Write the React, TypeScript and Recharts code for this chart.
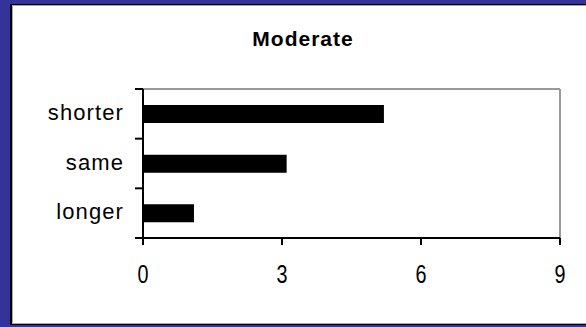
import { Bar, BarChart, CartesianGrid, XAxis, YAxis } from 'recharts';

const CATEGORIES = ['shorter', 'same', 'longer'];
const VALUES = [5.2, 3.1, 1.1];
const X_TICKS = [0, 3, 6, 9];

const data = CATEGORIES.map((cat, i) => ({ cat, value: VALUES[i] }));

const W = 586;
const H = 327;
const MARGIN = { top: 89, right: 26, bottom: 49, left: 0 };
const Y_AXIS_W = 143;
const X_AXIS_H = 40;
const PLOT_H = H - MARGIN.top - MARGIN.bottom - X_AXIS_H;
const HALF_BAND = PLOT_H / CATEGORIES.length / 2;
const AXIS_X = MARGIN.left + Y_AXIS_W;

const FONT = '"Liberation Sans", Arial, sans-serif';
const FRAME_BLUE = '#333399';

// category ticks sit on the band edges, labels in the band middle
function CategoryTick(props: any) {
  const { payload, index } = props;
  const y = payload?.coordinate ?? props.y;
  const last = index === CATEGORIES.length - 1;
  return (
    <g>
      <text
        x={AXIS_X - 19}
        y={y + 6}
        textAnchor="end"
        fontFamily={FONT}
        fontSize={22}
        letterSpacing={1.1}
        fill="#000"
      >
        {payload.value}
      </text>
      <line x1={AXIS_X - 8} x2={AXIS_X} y1={y - HALF_BAND} y2={y - HALF_BAND} stroke="#000" strokeWidth={2} />
      {last && <line x1={AXIS_X - 8} x2={AXIS_X} y1={y + HALF_BAND} y2={y + HALF_BAND} stroke="#000" strokeWidth={2} />}
    </g>
  );
}

function ValueTick(props: any) {
  const { x, payload } = props;
  const base = H - MARGIN.bottom - X_AXIS_H + 45;
  return (
    <text
      x={x - 5.5}
      y={base}
      fontFamily={FONT}
      fontSize={25}
      textLength={11}
      lengthAdjust="spacingAndGlyphs"
      fill="#000"
    >
      {payload.value}
    </text>
  );
}

export default function App() {
  return (
    <div style={{ position: 'fixed', left: 0, top: 0, width: W, height: H, background: FRAME_BLUE, overflow: 'hidden' }}>
      <div
        style={{
          position: 'absolute',
          left: 10,
          top: 4,
          width: W - 10,
          height: 321,
          boxSizing: 'border-box',
          background: '#fff',
          borderLeft: '2px solid #000',
          borderTop: '1px solid #000',
          borderBottom: '1px solid #000',
        }}
      >
        <div
          style={{
            position: 'absolute',
            left: 0,
            top: 0,
            right: 0,
            bottom: 0,
            borderLeft: '1px solid #aaa',
            borderTop: '1px solid #aaa',
            borderBottom: '1px solid #aaa',
          }}
        />
      </div>
      <div
        style={{
          position: 'absolute',
          left: 203,
          top: 28,
          width: 200,
          textAlign: 'center',
          fontFamily: FONT,
          fontWeight: 'bold',
          fontSize: 21,
          lineHeight: '21px',
          letterSpacing: 1,
          color: '#000',
        }}
      >
        Moderate
      </div>
      <div style={{ position: 'absolute', left: 0, top: 0 }}>
        <BarChart width={W} height={H} data={data} layout="vertical" margin={MARGIN} barSize={18}>
          <CartesianGrid
            stroke="#999"
            strokeWidth={2}
            horizontalCoordinatesGenerator={({ offset }: any) => [offset.top]}
            verticalCoordinatesGenerator={({ offset }: any) => [offset.left + offset.width]}
          />
          <XAxis
            type="number"
            domain={[0, 9]}
            ticks={X_TICKS}
            height={X_AXIS_H}
            axisLine={{ stroke: '#000', strokeWidth: 2 }}
            tickLine={{ stroke: '#000', strokeWidth: 2 }}
            tickSize={7}
            tick={<ValueTick />}
            interval={0}
          />
          <YAxis
            type="category"
            dataKey="cat"
            width={Y_AXIS_W}
            axisLine={{ stroke: '#000', strokeWidth: 2 }}
            tickLine={false}
            tick={<CategoryTick />}
            interval={0}
          />
          <Bar dataKey="value" fill="#000" isAnimationActive={false} />
        </BarChart>
      </div>
    </div>
  );
}
